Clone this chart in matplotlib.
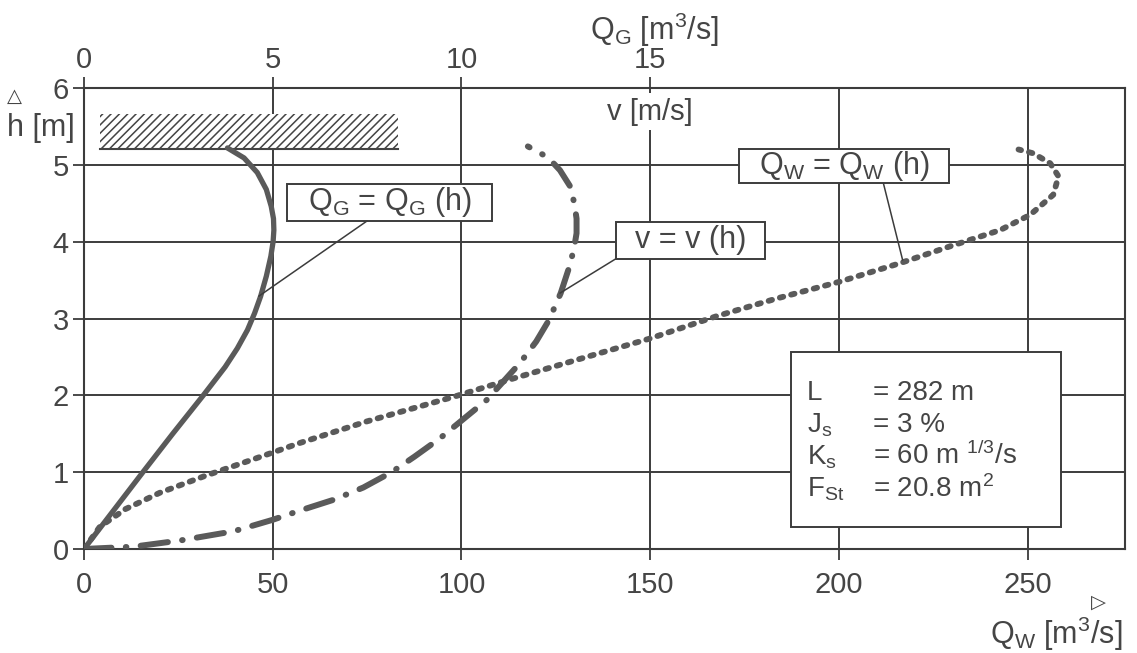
import matplotlib.pyplot as plt
from matplotlib.patches import Rectangle

plt.rcParams['font.family'] = ['Liberation Sans', 'DejaVu Sans']
plt.rcParams['mathtext.fontset'] = 'custom'
plt.rcParams['mathtext.rm'] = 'Liberation Sans'
plt.rcParams['mathtext.it'] = 'Liberation Sans:italic'
plt.rcParams['hatch.linewidth'] = 1.1

# data
# Q_G = Q_G(h)  [m3/s]  (top axis, 1 unit = 10 units of Q_W)
h_qg = [0, 0.5, 1.0, 1.5, 2.0, 2.37, 2.61, 2.85, 3.07, 3.29, 3.55, 3.81, 4.0,
        4.15, 4.30, 4.46, 4.68, 4.90, 5.09, 5.22]
qg = [0, 0.78, 1.56, 2.35, 3.16, 3.74, 4.06, 4.33, 4.52, 4.68, 4.83, 4.95, 5.01,
      5.03, 5.02, 4.96, 4.83, 4.59, 4.24, 3.80]

# v = v(h)  [m/s]  (same scale as Q_G)
h_v = [0, 0.03, 0.11, 0.23, 0.38, 0.50, 0.64, 0.80, 1.0, 1.2, 1.44, 1.94, 2.42,
       2.70, 2.98, 3.33, 3.63, 3.90, 4.11, 4.30, 4.50, 4.72, 4.93, 5.02, 5.13, 5.24]
v = [0, 1.31, 2.54, 3.96, 5.0, 5.72, 6.61, 7.40, 8.15, 8.75, 9.43, 10.67, 11.55,
     11.98, 12.32, 12.63, 12.83, 12.98, 13.05, 13.05, 12.99, 12.88, 12.61, 12.44, 12.17, 11.76]

# Q_W = Q_W(h)  [m3/s]
h_qw = [0, 0.29, 0.52, 0.73, 0.95, 1.17, 1.38, 1.66, 1.98, 2.22, 2.50, 2.74,
        3.03, 3.26, 3.48, 3.72, 3.94, 4.15, 4.35, 4.61, 4.85, 5.02, 5.15, 5.20]
qw = [0, 4.2, 11, 20, 32, 45, 57.2, 74.9, 97.9, 113.8, 133.2, 150,
      167.6, 183.5, 200.3, 216.2, 229.5, 242.7, 250.7, 256.8, 258.2, 256, 251.5, 247.6]

qw_ticks = [0, 50, 100, 150, 200, 250]
qg_ticks = [0, 5, 10, 15]
h_ticks = [0, 1, 2, 3, 4, 5, 6]

params_left = ['L', r'$\mathrm{J_s}$', r'$\mathrm{K_s}$', r'$\mathrm{F_{St}}$']
params_right = ['= 282 m', '= 3 %', r'= 60 m $^{\mathrm{1/3}}$/s', r'= 20.8 m$^{\mathrm{2}}$']

ink = '#3c3c3c'
curve = '#5a5a5a'
txt = '#454545'

fig = plt.figure(figsize=(11.37, 6.53), dpi=100)
ax = fig.add_axes([0.0739, 0.1593, 0.9155, 0.7059])
ax.set_xlim(0, 275.8)
ax.set_ylim(0, 6)

for s in ax.spines.values():
    s.set_color(ink)
    s.set_linewidth(1.5)
ax.set_xticks(qw_ticks)
ax.set_yticks(h_ticks)
ax.tick_params(direction='out', length=8, width=1.3, color=ink,
               labelsize=21, labelcolor=txt, pad=3)
ax.tick_params(axis='x', pad=8)
ax.grid(True, color=ink, linewidth=1.4)
ax.set_axisbelow(True)

top = ax.secondary_xaxis('top', functions=(lambda x: x / 10, lambda x: x * 10))
top.set_xticks(qg_ticks)
top.tick_params(direction='out', length=8, width=1.3, color=ink,
                labelsize=21, labelcolor=txt, pad=2)
top.spines['top'].set_visible(False)

# hatched bar (top of the structure)
ax.add_patch(Rectangle((4.2, 5.21), 79, 0.45, facecolor='white', edgecolor='#444444',
                       hatch='////', linewidth=0, zorder=2))
ax.plot([4.2, 83.2], [5.21, 5.21], color='#444444', lw=1.5, zorder=3)

# curves
ax.plot([q * 10 for q in qg], h_qg, color=curve, lw=3.8, solid_capstyle='round', zorder=4)
ax.plot([x * 10 for x in v], h_v, color=curve, lw=4.3, dash_capstyle='round',
        linestyle=(0, (4.6, 2.4, 0.1, 2.4)), zorder=4)
ax.plot(qw, h_qw, color=curve, lw=4.2, dash_capstyle='round',
        linestyle=(0, (0.6, 1.4)), zorder=4)

# curve labels: box (x0, x1, y0, y1), leader start, leader end
labels = [
    (r'$\mathrm{Q_G}$ = $\mathrm{Q_G}$ (h)', (53.8, 108.1, 4.27, 4.75), (75.0, 4.27), (46.3, 3.29)),
    (r'v = v (h)', (141.0, 180.3, 3.78, 4.26), (141.0, 3.78), (126.1, 3.33)),
    (r'$\mathrm{Q_W}$ = $\mathrm{Q_W}$ (h)', (173.6, 229.2, 4.76, 5.21), (211.8, 4.76), (216.9, 3.76)),
]
for text, (x0, x1, y0, y1), start, end in labels:
    ax.add_patch(Rectangle((x0, y0), x1 - x0, y1 - y0, facecolor='white', edgecolor=ink,
                           linewidth=1.4, zorder=5))
    ax.text((x0 + x1) / 2, (y0 + y1) / 2, text, fontsize=22, color=txt,
            ha='center', va='center', zorder=6)
    ax.annotate('', xy=end, xytext=start,
                arrowprops=dict(arrowstyle='-', color=ink, lw=1.1, shrinkA=0, shrinkB=0),
                zorder=5)

ax.text(150, 5.69, 'v [m/s]', fontsize=21, color=txt, ha='center', va='center',
        bbox=dict(boxstyle='square,pad=0.15', facecolor='white', edgecolor='none'), zorder=3)

# parameter box
ax.add_patch(Rectangle((187.3, 0.29), 71.6, 2.28, facecolor='white', edgecolor=ink,
                       linewidth=1.4, zorder=5))
for i, (a, b) in enumerate(zip(params_left, params_right)):
    y = 1.94 - i * 0.42
    ax.text(191.6, y, a, fontsize=20, color=txt, va='baseline', zorder=6)
    ax.text(209.0, y, b, fontsize=20, color=txt, va='baseline', zorder=6)

# axis titles
fig.text(0.576, 0.955, r'$\mathrm{Q_G}$ [m$^{\mathrm{3}}$/s]', fontsize=22, color=txt,
         ha='center', va='center')
fig.text(0.929, 0.030, r'$\mathrm{Q_W}$ [m$^{\mathrm{3}}$/s]', fontsize=22, color=txt,
         ha='center', va='center')
fig.text(0.966, 0.077, '\u25b7', fontsize=14, color=txt, ha='center', va='center')
fig.text(0.036, 0.804, 'h [m]', fontsize=22, color=txt, ha='center', va='center')
fig.text(0.013, 0.851, '\u25b3', fontsize=14, color=txt, ha='center', va='center')

fig.savefig('out.png', dpi=100, facecolor='white')
